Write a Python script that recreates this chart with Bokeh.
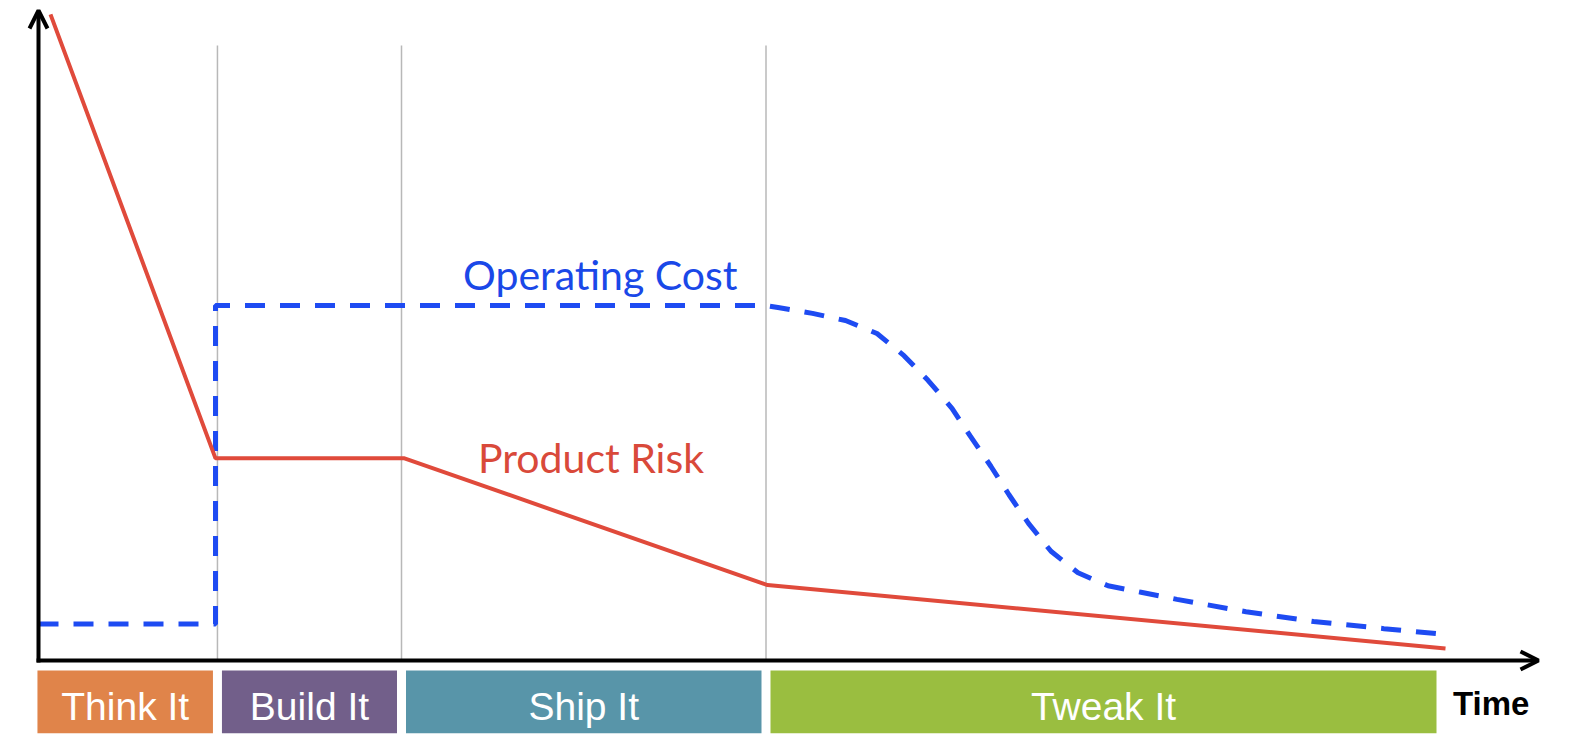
from bokeh.plotting import figure
from bokeh.models import ColumnDataSource, Range1d, Arrow, OpenHead
from bokeh.core.properties import value
from bokeh.embed import file_html
from bokeh.resources import INLINE

# ---- data ----
phases = ["Think It", "Build It", "Ship It", "Tweak It"]
phase_start = [0.0, 11.93, 24.2, 48.5]
phase_end = [11.93, 24.2, 48.5, 93.5]
phase_colors = ["#E0844A", "#725F8A", "#5895A9", "#9ABE40"]

risk_t = [0.8, 11.8, 24.4, 48.6, 93.8]
risk_v = [99.4, 31.1, 31.1, 11.6, 1.85]

cost_t = [0.0, 11.8, 11.8, 48.5, 49.3, 51.6, 53.8, 55.9, 57.7, 59.3, 60.9, 62.1,
          63.5, 64.7, 66.0, 67.5, 69.3, 71.3, 73.5, 75.9, 80.5, 85.0, 89.7, 93.8]
cost_v = [5.6, 5.6, 54.6, 54.6, 54.3, 53.4, 52.3, 50.3, 46.9, 43.1, 38.8, 34.6,
          29.85, 25.5, 21.1, 16.8, 13.5, 11.5, 10.5, 9.4, 7.5, 6.0, 4.9, 4.0]

label_names = ["Operating Cost", "Product Risk"]
label_t = [28.3, 29.3]
label_v = [59.4, 31.2]
label_colors = ["#1A48E8", "#D9493A"]

axis_max_t = 100.0
axis_max_v = 100.0

# ---- figure ----
W, H = 1572, 756
px_t, px_v = 15.0, 6.5
x0_px, y0_px = 38.0, 660.0
p = figure(width=W, height=H, output_backend="svg", toolbar_location=None,
           x_range=Range1d(-x0_px / px_t, (W - x0_px) / px_t),
           y_range=Range1d(-(H - y0_px) / px_v, y0_px / px_v),
           min_border=0, x_axis_type=None, y_axis_type=None)
p.grid.visible = False
p.outline_line_color = None
p.background_fill_color = "white"
p.border_fill_color = "white"

# phase separators
p.segment(x0=phase_start[1:], y0=[0] * 3, x1=phase_start[1:], y1=[94.6] * 3,
          line_color="#B8B8B8", line_width=1.5)

# phase boxes
inset = 0.3
lefts = [s + (inset if i > 0 else -0.07) for i, s in enumerate(phase_start)]
rights = [e - inset for e in phase_end]
box_src = ColumnDataSource(dict(left=lefts, right=rights, top=[-1.55] * 4,
                                bottom=[-11.2] * 4, color=phase_colors,
                                name=phases, cx=[(l + r) / 2 for l, r in zip(lefts, rights)],
                                cy=[-7.0] * 4))
p.quad(left="left", right="right", top="top", bottom="bottom", fill_color="color",
       line_color=None, source=box_src)
p.text(x="cx", y="cy", text="name", source=box_src, text_color="white",
       text_font=value("Liberation Sans"), text_font_size=value("39px"),
       text_align="center", text_baseline="middle")

# Time label
p.text(x=[94.3], y=[-6.6], text=["Time"], text_color="black",
       text_font=value("Liberation Sans"), text_font_style="bold",
       text_font_size=value("33px"), text_align="left", text_baseline="alphabetic")

# curves
p.line(cost_t, cost_v, line_color="#1E4BF2", line_width=5, line_dash="20 15")
p.line(risk_t, risk_v, line_color="#E04A3B", line_width=4)

# curve labels
lab_src = ColumnDataSource(dict(x=label_t, y=label_v, text=label_names, color=label_colors))
p.text(x="x", y="y", text="text", text_color="color", source=lab_src,
       text_font=value("Lato"), text_font_size=value("41px"),
       text_align="left", text_baseline="alphabetic")

# axes with arrows
p.add_layout(Arrow(end=OpenHead(line_width=4, size=18, line_color="black"),
                   x_start=0, y_start=-0.3, x_end=0, y_end=axis_max_v,
                   line_width=4, line_color="black"))
p.add_layout(Arrow(end=OpenHead(line_width=4, size=18, line_color="black"),
                   x_start=-0.13, y_start=0, x_end=axis_max_t, y_end=0,
                   line_width=4, line_color="black"))

open("out.html", "w").write(file_html(p, INLINE))
